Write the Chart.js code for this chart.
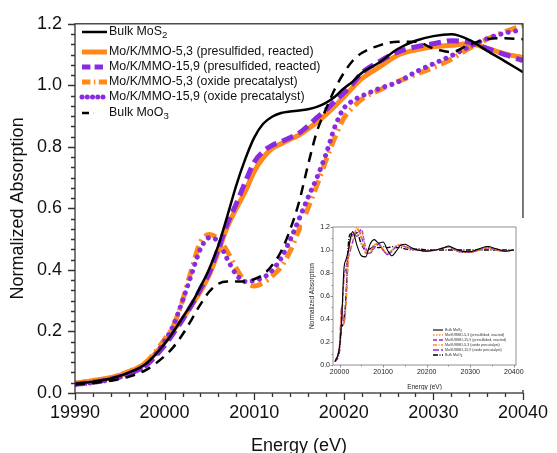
<!DOCTYPE html>
<html>
<head>
<meta charset="utf-8">
<script src="https://cdn.jsdelivr.net/npm/chart.js@4.4.1/dist/chart.umd.min.js"></script>
<style>
  html, body { margin: 0; padding: 0; background: #fff; }
  #wrap { position: relative; width: 557px; height: 453px; }
  #xanes { position: absolute; left: 0; top: 0; }
  #exafs { position: absolute; left: 302px; top: 218px; background: #fff; }
</style>
</head>
<body>
<div id="wrap">
  <canvas id="xanes" width="557" height="453"></canvas>
  <canvas id="exafs" width="226" height="172"></canvas>
</div>
<script>
// Mo K-edge XANES, normalized absorption vs energy (eV)
const energy = [19990, 19992, 19994, 19996, 19998, 20000, 20001, 20002, 20003, 20004,
  20005, 20006, 20007, 20008, 20009, 20010, 20011, 20012, 20013, 20014,
  20015, 20016, 20017, 20018, 20019, 20020, 20021, 20022, 20024, 20026,
  20028, 20030, 20032, 20034, 20036, 20038, 20040];

const bulkMoS2 = [0.030, 0.037, 0.047, 0.066, 0.097, 0.160, 0.200, 0.245, 0.290, 0.345,
  0.405, 0.480, 0.575, 0.675, 0.760, 0.830, 0.875, 0.898, 0.910, 0.915,
  0.918, 0.922, 0.930, 0.943, 0.963, 0.990, 1.012, 1.040, 1.075, 1.118,
  1.145, 1.160, 1.166, 1.148, 1.112, 1.078, 1.043];

const mmo53Sulf = [0.032, 0.040, 0.050, 0.068, 0.100, 0.165, 0.205, 0.240, 0.285, 0.330,
  0.385, 0.460, 0.540, 0.600, 0.655, 0.720, 0.765, 0.795, 0.810, 0.825,
  0.838, 0.858, 0.880, 0.905, 0.932, 0.962, 0.993, 1.022, 1.060, 1.098,
  1.115, 1.125, 1.130, 1.135, 1.120, 1.102, 1.090];

const mmo159Sulf = [0.028, 0.035, 0.045, 0.062, 0.092, 0.155, 0.195, 0.238, 0.285, 0.338,
  0.392, 0.470, 0.550, 0.615, 0.685, 0.750, 0.785, 0.805, 0.817, 0.830,
  0.845, 0.868, 0.895, 0.920, 0.948, 0.975, 1.005, 1.040, 1.078, 1.108,
  1.125, 1.135, 1.145, 1.140, 1.120, 1.100, 1.080];

const mmo53Oxide = [0.032, 0.040, 0.050, 0.070, 0.102, 0.175, 0.220, 0.300, 0.400, 0.490,
  0.515, 0.500, 0.460, 0.405, 0.362, 0.348, 0.358, 0.380, 0.410, 0.460,
  0.530, 0.600, 0.675, 0.755, 0.830, 0.893, 0.928, 0.955, 0.985, 1.012,
  1.035, 1.058, 1.085, 1.120, 1.150, 1.175, 1.195];

const mmo159Oxide = [0.027, 0.034, 0.044, 0.062, 0.092, 0.168, 0.222, 0.300, 0.385, 0.468,
  0.505, 0.492, 0.435, 0.385, 0.362, 0.365, 0.375, 0.398, 0.438, 0.497,
  0.565, 0.635, 0.700, 0.775, 0.865, 0.925, 0.950, 0.965, 0.990, 1.010,
  1.043, 1.070, 1.096, 1.125, 1.152, 1.170, 1.180];

const bulkMoO3 = [0.028, 0.032, 0.040, 0.053, 0.076, 0.120, 0.150, 0.190, 0.238, 0.288,
  0.330, 0.355, 0.362, 0.362, 0.362, 0.370, 0.385, 0.415, 0.460, 0.530,
  0.620, 0.740, 0.850, 0.922, 0.988, 1.040, 1.080, 1.105, 1.130, 1.142,
  1.142, 1.120, 1.108, 1.132, 1.150, 1.153, 1.150];

// wide-range scan for the small panel
const insetEnergy = [19990, 20000, 20005, 20010, 20015, 20020, 20025, 20030, 20040, 20050,
  20060, 20070, 20080, 20090, 20100, 20110, 20120, 20130, 20140, 20150,
  20165, 20180, 20200, 20220, 20240, 20250, 20260, 20280, 20300, 20320,
  20340, 20360, 20380, 20400];
const insetMoS2 = [0.03, 0.16, 0.405, 0.83, 0.918, 0.99, 1.10, 1.16, 1.04, 0.95,
  0.94, 1.05, 1.09, 1.06, 1.07, 1.00, 0.95, 0.99, 1.04, 1.05,
  1.02, 1.00, 0.99, 1.00, 1.02, 1.035, 1.02, 0.99, 0.985, 1.01,
  1.03, 1.01, 0.99, 1.00];
const inset53Sulf = [0.032, 0.165, 0.385, 0.72, 0.838, 0.962, 1.08, 1.125, 1.13, 1.16,
  1.00, 0.97, 1.04, 1.06, 1.01, 0.97, 1.00, 1.04, 1.05, 1.03,
  1.01, 1.00, 0.99, 1.00, 1.02, 1.03, 1.01, 0.98, 0.98, 1.00,
  1.02, 1.00, 0.99, 1.00];
const inset159Sulf = [0.028, 0.155, 0.392, 0.75, 0.845, 0.975, 1.10, 1.135, 1.12, 1.18,
  1.02, 0.97, 1.02, 1.05, 1.00, 0.96, 0.99, 1.03, 1.04, 1.03,
  1.01, 1.00, 0.99, 1.00, 1.02, 1.03, 1.01, 0.98, 0.98, 1.00,
  1.02, 1.00, 0.99, 1.00];
const inset53Oxide = [0.032, 0.175, 0.515, 0.348, 0.53, 0.893, 1.0, 1.058, 1.195, 1.10,
  0.97, 0.98, 1.05, 1.04, 1.00, 0.97, 1.00, 1.03, 1.04, 1.03,
  1.01, 1.00, 0.99, 1.00, 1.02, 1.03, 1.01, 0.98, 0.98, 1.00,
  1.02, 1.00, 0.99, 1.00];
const inset159Oxide = [0.027, 0.168, 0.505, 0.365, 0.565, 0.925, 1.0, 1.07, 1.18, 1.12,
  0.98, 0.97, 1.04, 1.05, 1.00, 0.96, 0.99, 1.03, 1.04, 1.03,
  1.01, 1.00, 0.99, 1.00, 1.02, 1.03, 1.01, 0.98, 0.98, 1.00,
  1.02, 1.00, 0.99, 1.00];
const insetMoO3 = [0.028, 0.12, 0.33, 0.37, 0.62, 1.04, 1.14, 1.12, 1.15, 1.05,
  1.00, 1.01, 1.03, 1.02, 1.03, 1.02, 1.03, 1.02, 1.02, 1.01,
  1.00, 1.01, 1.00, 1.00, 1.00, 1.00, 1.00, 1.00, 1.00, 1.00,
  1.00, 1.00, 1.00, 1.00];

const seriesNames = [
  ['Bulk MoS', '2'],
  ['Mo/K/MMO-5,3 (presulfided, reacted)', ''],
  ['Mo/K/MMO-15,9 (presulfided, reacted)', ''],
  ['Mo/K/MMO-5,3 (oxide precatalyst)', ''],
  ['Mo/K/MMO-15,9 (oxide precatalyst)', ''],
  ['Bulk MoO', '3']
];

const ORANGE = '#ff8a1a';
const PURPLE = '#8a2be2';
const FONT = "'Liberation Sans', Arial, sans-serif";

function pts(xs, ys) {
  return xs.map((x, i) => ({x: x, y: ys[i]}));
}

// box around the plot area plus major/minor ticks pointing outward
const frameTicks = {
  id: 'frameTicks',
  afterDraw(chart, args, o) {
    const {ctx, chartArea: a, scales: {x, y}} = chart;
    ctx.save();
    ctx.strokeStyle = o.color;
    ctx.lineWidth = o.width;
    ctx.strokeRect(a.left, a.top, a.right - a.left, a.bottom - a.top);
    ctx.beginPath();
    let n = Math.round((x.max - o.xStart) / o.xMinor);
    for (let i = 0; i <= n; i++) {
      const px = Math.round(x.getPixelForValue(o.xStart + i * o.xMinor)) + 0.5;
      const len = i % o.xEvery === 0 ? o.major : o.minor;
      ctx.moveTo(px, a.bottom);
      ctx.lineTo(px, a.bottom + len);
    }
    n = Math.round((y.max - y.min) / o.yMinor);
    for (let i = 0; i <= n; i++) {
      const py = Math.round(y.getPixelForValue(y.min + i * o.yMinor)) + 0.5;
      const len = i % o.yEvery === 0 ? o.major : o.minor;
      ctx.moveTo(a.left, py);
      ctx.lineTo(a.left - len, py);
    }
    ctx.stroke();
    ctx.restore();
  }
};

// legend with line samples taken from the datasets, names with subscripts
const sampleLegend = {
  id: 'sampleLegend',
  afterDatasetsDraw(chart, args, o) {
    const ctx = chart.ctx;
    ctx.save();
    chart.data.datasets.forEach((ds, i) => {
      const yy = o.rows[i];
      ctx.beginPath();
      ctx.strokeStyle = ds.borderColor;
      ctx.lineWidth = o.lineScale * ds.borderWidth;
      ctx.lineCap = ds.borderCapStyle || 'butt';
      ctx.setLineDash((ds.borderDash || []).map(d => d * o.dashScale));
      ctx.moveTo(o.x0, yy);
      ctx.lineTo(i === 5 ? o.x0 + o.shortLen : o.x1, yy);
      ctx.stroke();
      ctx.setLineDash([]);
      const [main, sub] = seriesNames[i];
      ctx.fillStyle = o.textColor;
      ctx.textBaseline = 'middle';
      ctx.font = o.size + 'px ' + FONT;
      ctx.fillText(main, o.tx, yy);
      if (sub) {
        const w = ctx.measureText(main).width;
        ctx.font = (o.size * 0.78) + 'px ' + FONT;
        ctx.fillText(sub, o.tx + w, yy + o.size * 0.3);
      }
    });
    ctx.restore();
  }
};

function makeSets(xs, arrs, styles) {
  return arrs.map((ys, i) => Object.assign({
    label: seriesNames[i].join(''),
    data: pts(xs, ys),
    pointRadius: 0,
    fill: false,
    cubicInterpolationMode: 'monotone'
  }, styles[i]));
}

const mainStyles = [
  {borderColor: '#000', borderWidth: 2.5, order: 0},
  {borderColor: ORANGE, borderWidth: 5, order: 5},
  {borderColor: PURPLE, borderWidth: 5, borderDash: [12, 6], order: 3},
  {borderColor: ORANGE, borderWidth: 5, borderDash: [12, 5, 2, 5], order: 4},
  {borderColor: PURPLE, borderWidth: 5, borderDash: [0.01, 7.5], borderCapStyle: 'round', order: 2},
  {borderColor: '#000', borderWidth: 2.5, borderDash: [10, 7], order: 1}
];

new Chart(document.getElementById('xanes'), {
  type: 'line',
  data: {
    datasets: makeSets(energy, [bulkMoS2, mmo53Sulf, mmo159Sulf, mmo53Oxide, mmo159Oxide, bulkMoO3], mainStyles)
  },
  options: {
    responsive: false,
    animation: false,
    layout: {padding: {left: 0, right: 29, top: 22, bottom: 0}},
    plugins: {
      legend: {display: false},
      tooltip: {enabled: false},
      frameTicks: {color: '#333', width: 1.3, xStart: 19990, xMinor: 2, xEvery: 5,
        yMinor: 0.2 / 6, yEvery: 6, major: 7, minor: 4},
      sampleLegend: {rows: [32, 52, 67, 82, 97, 113], x0: 82, x1: 107, shortLen: 12,
        tx: 109, size: 12.4, textColor: '#111', lineScale: 1, dashScale: 0.7}
    },
    scales: {
      x: {
        type: 'linear', min: 19990, max: 20040,
        grid: {display: false, drawTicks: false},
        border: {display: false},
        ticks: {stepSize: 10, autoSkip: false, maxRotation: 0, padding: 9, color: '#111',
          callback: v => String(v), font: {family: FONT, size: 18}},
        title: {display: true, text: 'Energy (eV)', color: '#111',
          font: {family: FONT, size: 18, lineHeight: 0.8}, padding: 0},
        afterFit: s => { s.height = 60; }
      },
      y: {
        min: 0, max: 1.2,
        grid: {display: false, drawTicks: false},
        border: {display: false},
        ticks: {stepSize: 0.2, padding: 13, color: '#111', callback: v => v.toFixed(1),
          font: {family: FONT, size: 18}},
        title: {display: true, text: 'Normalized Absorption', color: '#111',
          font: {family: FONT, size: 18, lineHeight: 0.8}, padding: {top: 11, bottom: 0}},
        afterFit: s => { s.width = 75; }
      }
    }
  },
  plugins: [frameTicks, sampleLegend]
});

// wide-range panel
const insetStyles = [
  {borderColor: '#000', borderWidth: 1.1},
  {borderColor: ORANGE, borderWidth: 1.3, borderDash: [1.5, 1.5]},
  {borderColor: PURPLE, borderWidth: 1.3, borderDash: [4, 2]},
  {borderColor: ORANGE, borderWidth: 1.3, borderDash: [4, 1.5, 1, 1.5]},
  {borderColor: PURPLE, borderWidth: 1.3, borderDash: [6, 2]},
  {borderColor: '#000', borderWidth: 1.3, borderDash: [5, 1.5, 1, 1.5]}
];

new Chart(document.getElementById('exafs'), {
  type: 'line',
  data: {
    datasets: makeSets(insetEnergy, [insetMoS2, inset53Sulf, inset159Sulf, inset53Oxide, inset159Oxide, insetMoO3], insetStyles)
  },
  options: {
    responsive: false,
    animation: false,
    layout: {padding: {left: 0, right: 12, top: 9, bottom: 0}},
    plugins: {
      legend: {display: false},
      tooltip: {enabled: false},
      frameTicks: {color: '#777', width: 0.8, xStart: 20000, xMinor: 50, xEvery: 2,
        yMinor: 0.1, yEvery: 2, major: 2.5, minor: 1.5},
      sampleLegend: {rows: [112, 117, 122, 127, 132, 137], x0: 131, x1: 141, shortLen: 10,
        tx: 143, size: 3.6, textColor: '#333', lineScale: 1, dashScale: 1}
    },
    scales: {
      x: {
        type: 'linear', min: 19985, max: 20405,
        grid: {display: false, drawTicks: false},
        border: {display: false},
        ticks: {stepSize: 100, includeBounds: false, autoSkip: false, maxRotation: 0, padding: 3,
          color: '#222', callback: v => String(v), font: {family: FONT, size: 7}},
        title: {display: true, text: 'Energy (eV)', color: '#222',
          font: {family: FONT, size: 6.5, lineHeight: 1}, padding: 0},
        afterFit: s => { s.height = 25; }
      },
      y: {
        min: 0, max: 1.2,
        grid: {display: false, drawTicks: false},
        border: {display: false},
        ticks: {stepSize: 0.2, padding: 3, color: '#222', callback: v => v.toFixed(1),
          font: {family: FONT, size: 7}},
        title: {display: true, text: 'Normalized Absorption', color: '#222',
          font: {family: FONT, size: 6.5, lineHeight: 1}, padding: {top: 7, bottom: 0}},
        afterFit: s => { s.width = 31; }
      }
    }
  },
  plugins: [frameTicks, sampleLegend]
});
</script>
</body>
</html>
